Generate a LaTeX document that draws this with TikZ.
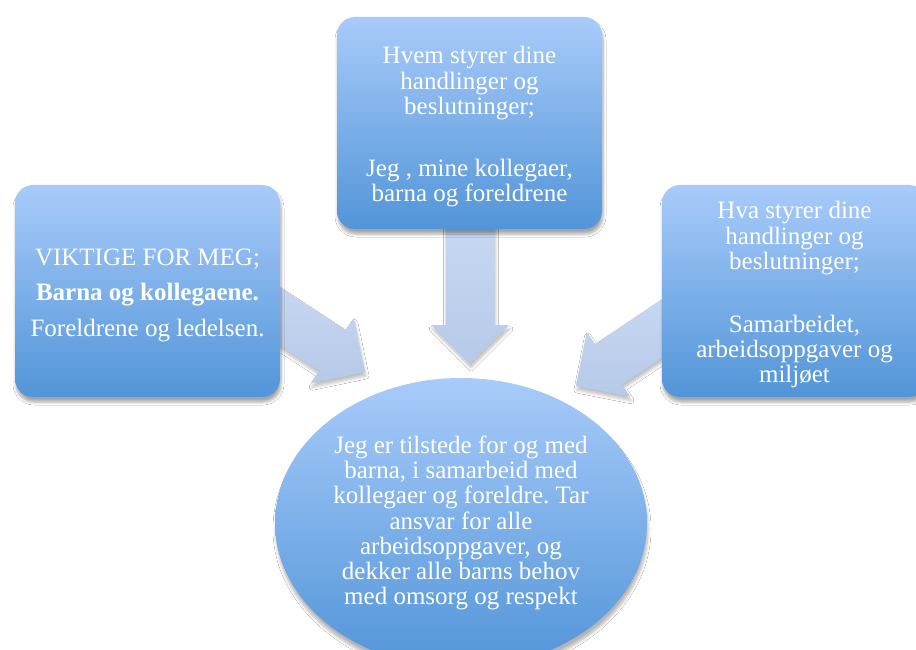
\documentclass[tikz,border=0pt]{standalone}
\usepackage{fontspec}
\setmainfont{Liberation Serif}
\usepackage{tikz}
\usetikzlibrary{calc,positioning,shapes.geometric,shadows.blur}
\frenchspacing

\definecolor{boxtop}{RGB}{168,203,250}
\definecolor{boxbot}{RGB}{82,149,216}
\definecolor{arrtop}{RGB}{202,218,243}
\definecolor{arrbot}{RGB}{182,201,232}

% block arrow from #1 to tip #2, #3 = name of its base point
\newcommand{\fatarrow}[3]{%
  \coordinate (#3) at ($(#2)!39pt!(#1)$);
  \path[flow] ($(#1)!24.5pt!90:(#2)$) -- ($(#3)!24.5pt!90:(#2)$) -- ($(#3)!39pt!90:(#2)$) -- (#2)
    -- ($(#3)!39pt!-90:(#2)$) -- ($(#3)!24.5pt!-90:(#2)$) -- ($(#1)!24.5pt!-90:(#2)$) -- cycle;
}
% taller first line, pushes the text block down a little
\newcommand{\lift}{\rule{0pt}{25pt}}

\begin{document}
\begin{tikzpicture}[x=1pt, y=-1pt,
  box/.style={rectangle, rounded corners=18pt, minimum width=265pt, minimum height=212pt,
    top color=boxtop, bottom color=boxbot, text=white, align=center, inner sep=0pt,
    blur shadow={shadow xshift=1pt, shadow yshift=-5pt, shadow blur radius=3pt, shadow blur steps=6, shadow opacity=35}},
  flow/.style={top color=arrtop, bottom color=arrbot,
    blur shadow={shadow xshift=1pt, shadow yshift=-4pt, shadow blur radius=3pt, shadow blur steps=5, shadow opacity=25}},
  txt/.style={font=\fontsize{25}{25.2}\selectfont}]
\clip (0,0) rectangle (916,650);
\fill[white] (0,0) rectangle (916,650);
% --- Arrow ends ---
\coordinate (LS) at (232,285);
\coordinate (LT) at (365,372);
\coordinate (MS) at (470,200);
\coordinate (MT) at (470,364);
\coordinate (RS) at (709,297);
\coordinate (RT) at (576,386);
% Arrows
\fatarrow{LS}{LT}{LB}
\fatarrow{MS}{MT}{MB}
\fatarrow{RS}{RT}{RB}
% --- Boxes ---
\node[box, txt] (viktig) at (147.5,291) {\lift VIKTIGE FOR MEG;\\[10pt]\textbf{Barna og kollegaene.}\\[10pt]Foreldrene og ledelsen.};
\node[box, txt] (hvem) at (469.5,123) {\lift Hvem styrer dine\\handlinger og\\beslutninger;\\[37pt]Jeg , mine kollegaer,\\barna og foreldrene};
\node[box, txt] (hva) at (794.5,291) {\lift Hva styrer dine\\handlinger og\\beslutninger;\\[38pt]Samarbeidet,\\arbeidsoppgaver og\\miljøet};
% --- Centre ---
\node[ellipse, top color=boxtop, bottom color=boxbot, text=white, align=center, inner sep=0pt,
  minimum width=372pt, minimum height=290pt, txt,
  blur shadow={shadow xshift=1pt, shadow yshift=-6pt, shadow blur radius=3pt, shadow blur steps=6, shadow opacity=30}] (jeg) at (461,523)
  {Jeg er tilstede for og med\\barna, i samarbeid med\\kollegaer og foreldre. Tar\\ansvar for alle\\arbeidsoppgaver, og\\dekker alle barns behov\\med omsorg og respekt};
\end{tikzpicture}
\end{document}
